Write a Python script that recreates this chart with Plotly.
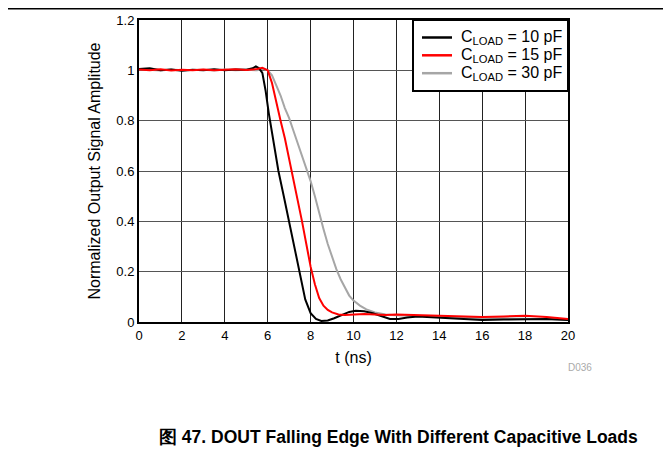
import plotly.graph_objects as go

# flat region samples (ns) shared by all three traces
t_flat = [0, 0.5, 1, 1.5, 2, 2.5, 3, 3.5, 4, 4.5, 5]

# C_LOAD = 10 pF
t_10 = t_flat + [5.3, 5.45, 5.6, 5.75, 5.9, 6.05, 6.25, 6.5, 6.75, 7.0, 7.25, 7.5, 7.75, 8.0,
                 8.25, 8.5, 8.8, 9.1, 9.5, 9.8, 10.1, 10.5, 10.9, 11.3, 11.7, 12.1, 12.5, 13,
                 13.5, 14, 15, 16, 17, 18, 19, 20]
y_10 = [1.005, 1.008, 1.0, 1.003, 0.998, 1.002, 1.0, 1.004, 1.0, 1.003, 1.002,
        1.008, 1.016, 1.008, 0.99, 0.92, 0.83, 0.72, 0.60, 0.50, 0.40, 0.30, 0.19, 0.09, 0.035,
        0.012, 0.004, 0.006, 0.015, 0.028, 0.04, 0.045, 0.043, 0.035, 0.022, 0.012, 0.012, 0.018, 0.022,
        0.02, 0.018, 0.012, 0.008, 0.01, 0.01, 0.012, 0.008]

# C_LOAD = 15 pF
t_15 = t_flat + [5.5, 5.75, 6.0, 6.2, 6.4, 6.6, 6.8, 7.0, 7.2, 7.4, 7.6, 7.8, 8.0, 8.2, 8.4,
                 8.6, 8.8, 9.0, 9.3, 9.6, 10, 10.5, 11, 11.5, 12, 13, 14, 15, 16, 17, 18, 19, 20]
y_15 = [1.003, 1.0, 1.004, 0.999, 1.002, 1.0, 1.003, 1.0, 1.002, 1.004, 1.001,
        1.005, 1.01, 1.0, 0.95, 0.87, 0.80, 0.73, 0.65, 0.57, 0.49, 0.40, 0.31, 0.22, 0.15, 0.095,
        0.065, 0.048, 0.038, 0.03, 0.028, 0.03, 0.032, 0.03, 0.028, 0.03, 0.027, 0.025, 0.022, 0.02,
        0.022, 0.025, 0.02, 0.012]

# C_LOAD = 30 pF
t_30 = t_flat + [5.5, 5.8, 6.0, 6.2, 6.4, 6.6, 6.8, 7.0, 7.2, 7.4, 7.6, 7.8, 8.0, 8.2, 8.4, 8.6,
                 8.8, 9.0, 9.2, 9.4, 9.6, 9.8, 10.0, 10.3, 10.6, 11.0, 11.5, 12, 13, 14, 15, 16,
                 17, 18, 19, 20]
y_30 = [1.004, 1.002, 0.999, 1.003, 1.0, 1.001, 1.002, 0.999, 1.003, 1.0, 1.002,
        1.0, 1.005, 1.0, 0.98, 0.94, 0.90, 0.85, 0.81, 0.76, 0.71, 0.66, 0.61, 0.56, 0.50, 0.43,
        0.37, 0.31, 0.26, 0.21, 0.17, 0.135, 0.105, 0.085, 0.065, 0.05, 0.038, 0.03, 0.027, 0.024,
        0.02, 0.018, 0.016, 0.015, 0.014, 0.013, 0.01]

series_names = ['C<sub>LOAD</sub> = 10 pF', 'C<sub>LOAD</sub> = 15 pF', 'C<sub>LOAD</sub> = 30 pF']
series_colors = ['black', '#ff0000', '#a6a6a6']

x_ticks = list(range(0, 21, 2))
y_ticks = [0, 0.2, 0.4, 0.6, 0.8, 1, 1.2]
y_tick_text = ['0', '0.2', '0.4', '0.6', '0.8', '1', '1.2']

FONT = 'Arial, Liberation Sans, sans-serif'
OFF = 8  # page body margin around the plot div
W, H = 671, 463
ML, MT = 139 - OFF, 20 - OFF
PW, PH = 429, 302
MR, MB = W - ML - PW, H - MT - PH


def px_x(x):
    # page pixel -> paper x
    return (x - OFF - ML) / PW


def px_y(y):
    # page pixel -> paper y
    return 1 - (y - OFF - MT) / PH


fig = go.Figure()
# gray drawn first so the faster edges sit on top
for t, y, i in [(t_30, y_30, 2), (t_10, y_10, 0), (t_15, y_15, 1)]:
    fig.add_trace(go.Scatter(x=t, y=y, mode='lines', name=series_names[i],
                             line=dict(color=series_colors[i], width=2), showlegend=False))

fig.update_layout(
    width=W, height=H,
    margin=dict(l=ML, r=MR, t=MT, b=MB),
    paper_bgcolor='white', plot_bgcolor='white',
    font=dict(family=FONT, size=13, color='black'),
    xaxis=dict(range=[0, 20], tickvals=x_ticks, showgrid=True, gridcolor='#222', gridwidth=1,
               showline=True, linecolor='black', linewidth=2, mirror=True, zeroline=False,
               ticks='', automargin=False, title=dict(text='t (ns)', standoff=10)),
    yaxis=dict(range=[0, 1.2], tickvals=y_ticks, ticktext=y_tick_text, showgrid=True,
               gridcolor='#555', gridwidth=1, showline=True, linecolor='black', linewidth=2,
               mirror=True, zeroline=False, ticks='', automargin=False,
               title=dict(text='Normalized Output Signal Amplitude', standoff=12)),
)

# legend box in the top-right corner of the plot
fig.add_shape(type='rect', xref='paper', yref='paper', layer='above',
              x0=px_x(413), x1=1, y0=px_y(91), y1=1,
              fillcolor='white', line=dict(color='black', width=2))
legend_rows = [37.5, 55.3, 73.2]
for name, color, row in zip(series_names, series_colors, legend_rows):
    fig.add_shape(type='line', xref='paper', yref='paper', layer='above',
                  x0=px_x(422), x1=px_x(452), y0=px_y(row), y1=px_y(row),
                  line=dict(color=color, width=2.5))
    fig.add_annotation(text=name, xref='paper', yref='paper', x=px_x(459), y=px_y(row),
                       xanchor='left', yanchor='middle', showarrow=False,
                       font=dict(size=16, color='black'))

# rule across the top of the page
fig.add_shape(type='line', xref='paper', yref='paper',
              x0=px_x(0), x1=px_x(W + OFF), y0=px_y(OFF + 0.75), y1=px_y(OFF + 0.75),
              line=dict(color='black', width=1.5))

fig.add_annotation(text='D036', xref='paper', yref='paper', x=px_x(580), y=px_y(367),
                   xanchor='center', yanchor='middle', showarrow=False,
                   font=dict(size=10, color='#aaa'))
fig.add_annotation(text='<b>图 47. DOUT Falling Edge With Different Capacitive Loads</b>',
                   xref='paper', yref='paper', x=px_x(398), y=px_y(437),
                   xanchor='center', yanchor='middle', showarrow=False,
                   font=dict(size=17.5, color='black'))

fig.write_html('out.html')
